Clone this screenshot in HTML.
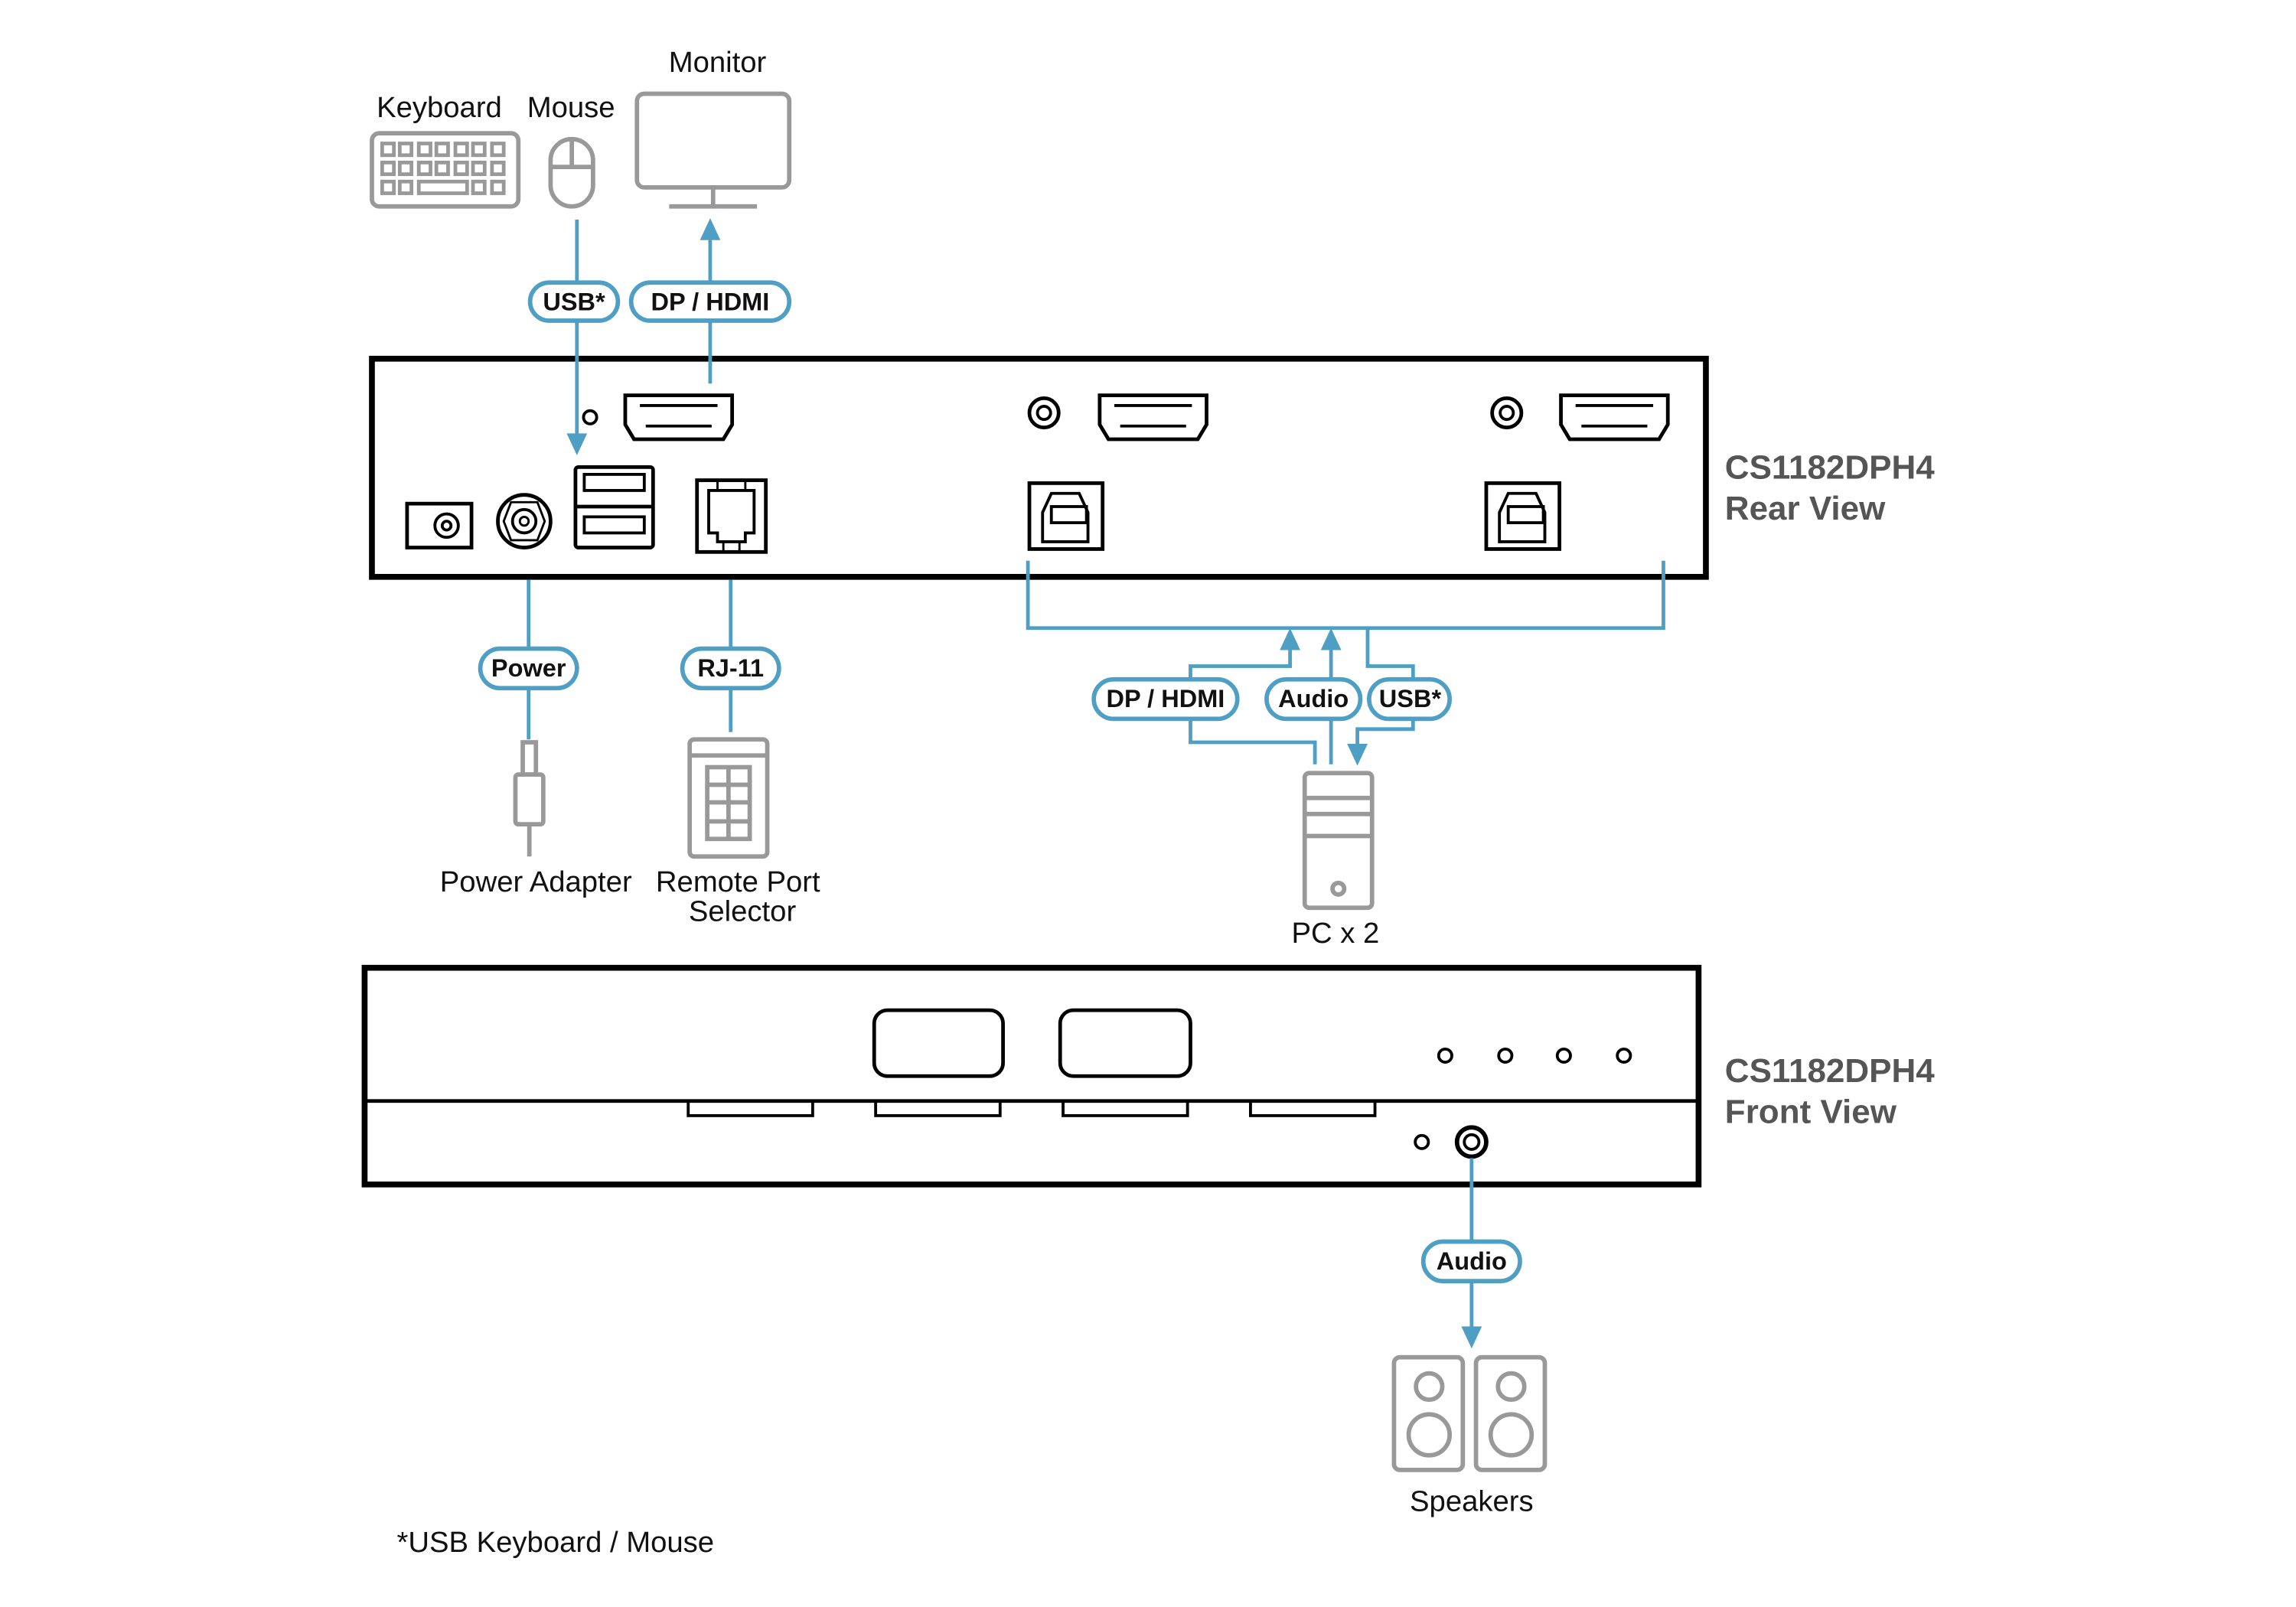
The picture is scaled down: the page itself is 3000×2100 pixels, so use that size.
<!DOCTYPE html>
<html><head><meta charset="utf-8"><style>
html,body{margin:0;padding:0;background:#fff;width:3000px;height:2100px;overflow:hidden}
svg{display:block}
text{font-family:"Liberation Sans",sans-serif}
</style></head><body>
<svg width="3000" height="2100" viewBox="0 0 1568 1097.6" xmlns="http://www.w3.org/2000/svg">
<g fill="none" stroke="#999" stroke-width="3">
<rect x="254" y="91" width="100" height="50" rx="5"/>
<g stroke-width="2.5">
<rect x="261" y="98" width="8" height="8"/><rect x="273" y="98" width="8" height="8"/><rect x="286" y="98" width="8" height="8"/><rect x="298" y="98" width="8" height="8"/><rect x="311" y="98" width="8" height="8"/><rect x="323" y="98" width="8" height="8"/><rect x="336" y="98" width="8" height="8"/>
<rect x="261" y="111" width="8" height="8"/><rect x="273" y="111" width="8" height="8"/><rect x="286" y="111" width="8" height="8"/><rect x="298" y="111" width="8" height="8"/><rect x="311" y="111" width="8" height="8"/><rect x="323" y="111" width="8" height="8"/><rect x="336" y="111" width="8" height="8"/>
<rect x="261" y="124" width="8" height="8"/><rect x="273" y="124" width="8" height="8"/><rect x="286" y="124" width="33" height="8"/><rect x="323" y="124" width="8" height="8"/><rect x="336" y="124" width="8" height="8"/>
</g>
<rect x="376" y="95" width="29" height="46" rx="14.5"/>
<line x1="390.5" y1="95" x2="390.5" y2="114"/><line x1="376" y1="114" x2="405" y2="114"/>
<rect x="435" y="64" width="104" height="64" rx="5"/>
<line x1="487" y1="128" x2="487" y2="140"/><line x1="457" y1="141" x2="517" y2="141"/>
<rect x="357" y="507" width="9" height="22"/><rect x="352" y="529" width="19" height="34" rx="2"/>
<line x1="361.5" y1="563" x2="361.5" y2="585"/>
<rect x="471" y="505" width="53" height="80" rx="3"/><line x1="471" y1="516" x2="524" y2="516"/>
<rect x="483" y="524" width="29" height="49"/><line x1="497.5" y1="524" x2="497.5" y2="573"/>
<line x1="483" y1="536" x2="512" y2="536"/><line x1="483" y1="548" x2="512" y2="548"/><line x1="483" y1="561" x2="512" y2="561"/>
<rect x="891" y="528" width="46" height="92" rx="3"/>
<line x1="891" y1="545" x2="937" y2="545"/><line x1="891" y1="556" x2="937" y2="556"/><line x1="891" y1="571" x2="937" y2="571"/>
<circle cx="914" cy="607" r="4"/>
<rect x="952" y="927" width="47" height="77" rx="4"/><rect x="1008" y="927" width="47" height="77" rx="4"/>
<circle cx="976" cy="947" r="9"/><circle cx="976" cy="980" r="14"/>
<circle cx="1032" cy="947" r="9"/><circle cx="1032" cy="980" r="14"/>
</g>
<g fill="none" stroke="#000" stroke-width="2.5">
<rect x="254" y="245" width="911" height="149" stroke-width="4"/>
<circle cx="403" cy="285" r="4.5" stroke-width="2"/>
<path d="M427 270 H500 V290 L494 300 H433 L427 290 Z"/><path d="M437 277 H490 M441 291 H486" stroke-width="2"/>
<path d="M751 270 H824 V290 L818 300 H757 L751 290 Z"/><path d="M761 277 H814 M765 291 H810" stroke-width="2"/>
<path d="M1066 270 H1139 V290 L1133 300 H1072 L1066 290 Z"/><path d="M1076 277 H1129 M1080 291 H1125" stroke-width="2"/>
<circle cx="713" cy="282" r="10"/><circle cx="713" cy="282" r="4.5" stroke-width="2"/>
<circle cx="1029" cy="282" r="10"/><circle cx="1029" cy="282" r="4.5" stroke-width="2"/>
<rect x="278" y="344" width="44" height="30"/><circle cx="305" cy="359" r="8" stroke-width="2"/><circle cx="305" cy="359" r="3" stroke-width="2"/>
<circle cx="358" cy="356" r="18"/><path d="M349 343 L367 343 L372 356 L367 369 L349 369 L344 356 Z" stroke-width="1.5"/><circle cx="358" cy="356" r="8" stroke-width="2"/><circle cx="358" cy="356" r="3" stroke-width="1.5"/>
<rect x="393" y="319" width="53" height="55" rx="2"/><line x1="393" y1="346" x2="446" y2="346"/>
<rect x="399" y="324" width="41" height="11" stroke-width="2"/><rect x="399" y="353" width="41" height="11" stroke-width="2"/>
<rect x="476" y="328" width="47" height="49"/><path d="M484 335 H515 V364 H509 V370 H490 V364 H484 Z" stroke-width="2"/><path d="M490 328 V335 M509 328 V335 M494 370 V377 M505 370 V377" stroke-width="1.5"/>
<rect x="703" y="330" width="50" height="45"/><path d="M712 350 L718 337 H737 L743 350 V370 H712 Z" stroke-width="2"/><rect x="718" y="346" width="24" height="11" stroke-width="2"/>
<rect x="1015" y="330" width="50" height="45"/><path d="M1024 350 L1030 337 H1049 L1055 350 V370 H1024 Z" stroke-width="2"/><rect x="1030" y="346" width="24" height="11" stroke-width="2"/>
</g>
<g fill="none" stroke="#000" stroke-width="2.5">
<rect x="249" y="661" width="911" height="148" stroke-width="4"/>
<line x1="249" y1="752" x2="1160" y2="752"/>
<rect x="597" y="690" width="88" height="45" rx="9"/><rect x="724" y="690" width="89" height="45" rx="9"/>
<rect x="470" y="752" width="85" height="10" stroke-width="2"/><rect x="598" y="752" width="85" height="10" stroke-width="2"/><rect x="726" y="752" width="85" height="10" stroke-width="2"/><rect x="854" y="752" width="85" height="10" stroke-width="2"/>
<circle cx="987" cy="721" r="4.5" stroke-width="2"/><circle cx="1028" cy="721" r="4.5" stroke-width="2"/><circle cx="1068" cy="721" r="4.5" stroke-width="2"/><circle cx="1109" cy="721" r="4.5" stroke-width="2"/>
<circle cx="971" cy="780" r="4.5" stroke-width="2"/>
<circle cx="1005" cy="780" r="10" stroke-width="3"/><circle cx="1005" cy="780" r="5" stroke-width="2"/>
</g>
<g fill="none" stroke="#4f9fc4" stroke-width="2.5">
<line x1="394" y1="150" x2="394" y2="300"/>
<line x1="485" y1="262" x2="485" y2="160"/>
<line x1="361" y1="396" x2="361" y2="505"/>
<line x1="499" y1="396" x2="499" y2="500"/>
<path d="M702 383 V429 H1136 V383"/>
<path d="M881 440 V455 H813 V507 H898 V522"/>
<line x1="909" y1="440" x2="909" y2="522"/>
<path d="M934 429 V455 H965 V498 H927 V512"/>
<line x1="1005" y1="791" x2="1005" y2="908"/>
</g>
<g fill="#4f9fc4">
<path d="M387 296 L401 296 L394 311 Z"/>
<path d="M478 164 L492 164 L485 149 Z"/>
<path d="M874 444 L888 444 L881 429 Z"/>
<path d="M902 444 L916 444 L909 429 Z"/>
<path d="M920 508 L934 508 L927 523 Z"/>
<path d="M998 906 L1012 906 L1005 921 Z"/>
</g>
<g fill="#fff" stroke="#4f9fc4" stroke-width="3">
<rect x="362" y="193" width="60" height="26" rx="13"/>
<rect x="431" y="193" width="108" height="26" rx="13"/>
<rect x="328" y="443" width="66" height="27" rx="13.5"/>
<rect x="466" y="443" width="66" height="27" rx="13.5"/>
<rect x="747" y="464" width="98" height="27" rx="13.5"/>
<rect x="865" y="464" width="64" height="27" rx="13.5"/>
<rect x="935" y="464" width="55" height="27" rx="13.5"/>
<rect x="972" y="848" width="66" height="27" rx="13.5"/>
</g>
<g font-weight="bold" font-size="17" text-anchor="middle" fill="#111">
<text x="392" y="212">USB*</text>
<text x="485" y="212">DP / HDMI</text>
<text x="361" y="462">Power</text>
<text x="499" y="462">RJ-11</text>
<text x="796" y="483">DP / HDMI</text>
<text x="897" y="483">Audio</text>
<text x="963" y="483">USB*</text>
<text x="1005" y="867">Audio</text>
</g>
<g font-size="20" text-anchor="middle" fill="#111">
<text x="490" y="49">Monitor</text>
<text x="300" y="80">Keyboard</text>
<text x="390" y="80">Mouse</text>
<text x="366" y="609">Power Adapter</text>
<text x="504" y="609">Remote Port</text>
<text x="507" y="629">Selector</text>
<text x="912" y="644">PC x 2</text>
<text x="1005" y="1032">Speakers</text>
<text x="271" y="1060" text-anchor="start">*USB Keyboard / Mouse</text>
</g>
<g font-weight="bold" font-size="23" fill="#555">
<text x="1178" y="327">CS1182DPH4</text>
<text x="1178" y="355">Rear View</text>
<text x="1178" y="739">CS1182DPH4</text>
<text x="1178" y="767">Front View</text>
</g>
</svg>
</body></html>
